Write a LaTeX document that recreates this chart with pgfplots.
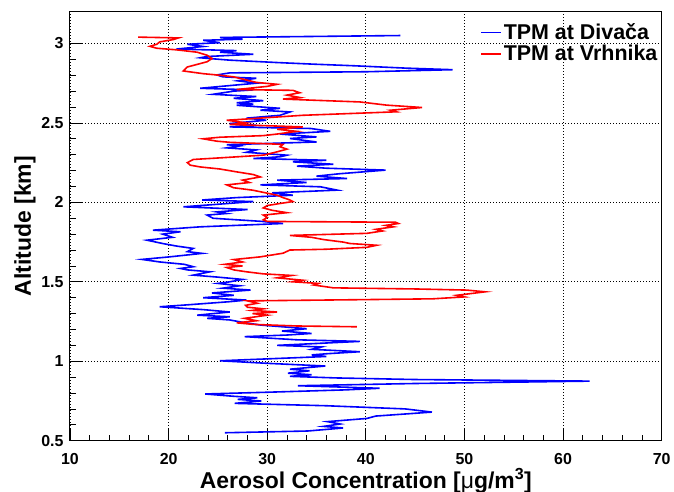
\documentclass[border=0pt]{standalone}
\usepackage{fontspec}
\setmainfont{Liberation Sans}
\usepackage{pgfplots}
\pgfplotsset{compat=1.18}
\begin{document}
\begin{tikzpicture}
\begin{axis}[
  scale only axis,
  width=591.7bp, height=429bp,
  xmin=10, xmax=70, ymin=0.5, ymax=3.2,
  xtick={10,20,30,40,50,60,70},
  ytick={0.5,1,1.5,2,2.5,3},
  minor x tick num=4, minor y tick num=4,
  tick align=inside,
  xtick pos=bottom, ytick pos=left,
  major tick length=12bp, minor tick length=6bp,
  tick style={black, line width=0.8bp},
  axis line style={black, line width=1bp},
  grid=major,
  major grid style={black, line width=0.8bp, dash pattern=on 1bp off 2bp},
  /pgf/number format/assume math mode=true,
  ticklabel style={font=\bfseries\fontsize{16}{16}\selectfont},
  xticklabel style={yshift=-9bp},
  yticklabel style={xshift=-3bp},
  xlabel={Aerosol Concentration [{\mdseries μ}g/m\textsuperscript{3}]},
  ylabel={Altitude [km]},
  label style={font=\bfseries\fontsize{23}{23}\selectfont},
  xlabel style={at={(axis description cs:0.5,-0.0932)}, anchor=center},
  ylabel style={at={(axis description cs:-0.076,0.5)}, anchor=center, rotate=0},
  legend style={draw=none, fill=none, at={(axis description cs:0.693,0.977)}, anchor=north west,
    font=\bfseries\fontsize{21.5}{21.5}\selectfont, row sep=0bp, inner sep=0pt,
    nodes={inner sep=2bp}},
  legend cell align=left,
  legend image code/.code={\draw[#1] (0bp,0bp) -- (20bp,0bp);},
]
\addplot[blue, line width=1.6bp] coordinates {
(25.7,0.550) (34.1,0.561) (37.7,0.58) (35.7,0.59) (37.4,0.605) (36.1,0.62)
(40.1,0.64) (41,0.655) (46.7,0.68) (44,0.70) (36,0.72) (26.7,0.735)
(29.4,0.75) (27,0.76) (29,0.77) (26.5,0.78) (23.7,0.794) (30,0.805)
(38,0.82) (41.4,0.83) (33.1,0.846) (45,0.86) (62.7,0.875) (45,0.885)
(37,0.895) (32.3,0.905) (34.5,0.915) (32.1,0.925) (34.3,0.94) (32.3,0.95)
(35.9,0.97) (30,0.987) (25.2,1.003) (30,1.015) (36,1.03) (34.5,1.04)
(36.2,1.048) (39.4,1.06) (34.5,1.075) (35.5,1.09) (31,1.10) (39.4,1.125)
(33,1.135) (27.7,1.155) (32,1.165) (34.5,1.175) (31.5,1.19) (34,1.205)
(29.3,1.228) (27.5,1.245) (26.2,1.26) (23.9,1.27) (26.2,1.28) (22.9,1.29)
(26.2,1.31) (23.5,1.325) (19.1,1.343) (21.9,1.355) (26.2,1.375) (27.9,1.385)
(23.5,1.40) (26.6,1.415) (24.4,1.43) (28.3,1.448) (25.5,1.46) (27.2,1.475)
(25,1.49) (26.2,1.50) (27.5,1.515) (24.9,1.53) (22.5,1.542) (24.2,1.563)
(21.9,1.575) (21.2,1.584) (22.5,1.595) (21.6,1.61) (19.1,1.625) (17.3,1.641)
(20.1,1.657) (23.4,1.679) (21.9,1.69) (22.5,1.71) (20.8,1.725) (19.4,1.741)
(17.8,1.762) (20.4,1.78) (19.4,1.80) (21.2,1.815) (18.4,1.825) (23.2,1.846)
(31.6,1.867) (29.5,1.88) (24.5,1.90) (23.9,1.92) (25.9,1.93) (24.9,1.94)
(28,1.955) (21.5,1.972) (25.4,1.99) (28.6,2.005) (23.4,2.015) (26.9,2.03)
(32.6,2.045) (30.5,2.06) (37.1,2.077) (35.4,2.098) (29.3,2.11) (34,2.125)
(31,2.14) (38.1,2.15) (35,2.165) (37.3,2.18) (42,2.203) (36,2.215)
(33,2.228) (36.7,2.24) (32.6,2.255) (36,2.265) (28.6,2.276) (31.3,2.287)
(32,2.297) (27.9,2.315) (28.9,2.33) (25.9,2.343) (27.2,2.355) (25.9,2.363)
(35,2.38) (32.3,2.402) (35,2.412) (31.3,2.43) (36.4,2.447) (34.4,2.465)
(26.2,2.475) (28.9,2.485) (26.2,2.496) (29.9,2.517) (27.9,2.53) (31.3,2.548)
(32.3,2.569) (29.3,2.58) (31.3,2.592) (26.9,2.611) (28.6,2.618) (26.9,2.627)
(29.6,2.64) (26.6,2.655) (28.9,2.666) (24.5,2.68) (26.6,2.70) (28.6,2.708)
(23.2,2.718) (26.2,2.735) (28.9,2.75) (27,2.765) (28.9,2.781) (25.5,2.79)
(24.9,2.802) (26.2,2.815) (40,2.822) (48.8,2.835) (44,2.845) (38.7,2.86)
(34.6,2.87) (31,2.88) (26.2,2.895) (23.2,2.91) (23.9,2.918) (28.6,2.932)
(25.2,2.945) (26.9,2.955) (20.8,2.965) (23.5,2.981) (21.9,2.995) (25.2,3.005)
(23.5,3.02) (27.5,3.027) (25.2,3.038) (43.5,3.05)
};
\addlegendentry{TPM at Divača}
\addplot[red, line width=1.6bp] coordinates {
(39.1,1.217) (33,1.222) (28.6,1.232) (26.9,1.242) (28.9,1.255) (27.7,1.27)
(30,1.29) (28.5,1.30) (31,1.31) (28.5,1.32) (29.6,1.33) (28,1.34)
(27.8,1.352) (29,1.365) (28,1.38) (40,1.388) (46.8,1.393) (50,1.405)
(49.2,1.415) (52.1,1.437) (50.2,1.448) (45,1.455) (36.7,1.462) (34.7,1.48)
(35.2,1.49) (32.6,1.50) (33.6,1.51) (31,1.525) (32.5,1.54) (29.6,1.55)
(27.9,1.563) (26.6,1.575) (25.9,1.59) (27.5,1.60) (25.7,1.61) (27.5,1.625)
(26.6,1.64) (29.3,1.657) (31.6,1.68) (32.3,1.70) (36,1.705) (40.1,1.717)
(41.1,1.73) (38.4,1.741) (37.7,1.75) (35.7,1.766) (34.5,1.78) (32.3,1.792)
(40.1,1.805) (41.7,1.82) (41,1.83) (42.8,1.846) (42,1.855) (43.3,1.867)
(43,1.875) (30,1.88) (29.6,1.89) (30,1.905) (29.6,1.92) (32,1.935)
(30.5,1.95) (29.6,1.965) (30,1.98) (31.3,1.993) (32.6,2.005) (32.3,2.015)
(31.6,2.03) (31,2.045) (29.6,2.063) (28.5,2.077) (26.6,2.092) (25.9,2.11)
(28.2,2.125) (27.5,2.14) (29.3,2.16) (28.6,2.175) (26.9,2.192) (25.2,2.21)
(23.2,2.223) (22.2,2.234) (21.9,2.25) (22.5,2.27) (25.2,2.28) (29.6,2.297)
(31,2.318) (32,2.335) (31.3,2.35) (31.6,2.365) (26.2,2.378) (24.9,2.385)
(23.5,2.40) (25.2,2.41) (29.6,2.42) (31,2.43) (33,2.447) (31,2.46)
(33.6,2.475) (26.2,2.49) (27.9,2.50) (25.9,2.517) (28.5,2.527) (33.6,2.548)
(43.1,2.57) (42.5,2.58) (45.7,2.597) (42.1,2.612) (39.4,2.632) (31.6,2.65)
(33.3,2.66) (32,2.675) (33.3,2.69) (32.6,2.705) (26.9,2.71) (30,2.73)
(31,2.743) (28.9,2.755) (27.9,2.77) (26.6,2.79) (25.2,2.80) (23.5,2.81)
(21.5,2.827) (21.9,2.852) (23.9,2.885) (24.4,2.905) (23.9,2.926) (22.9,2.945)
(20.8,2.96) (18.8,2.97) (18.1,2.982) (18.8,2.995) (19.1,3.01) (20.5,3.025)
(21,3.035) (16.9,3.04)
};
\addlegendentry{TPM at Vrhnika}
\end{axis}
\pgfresetboundingbox
\path (current axis.south west) ++(-70bp,-51.3bp) rectangle ++(674bp,492bp);
\end{tikzpicture}
\end{document}
